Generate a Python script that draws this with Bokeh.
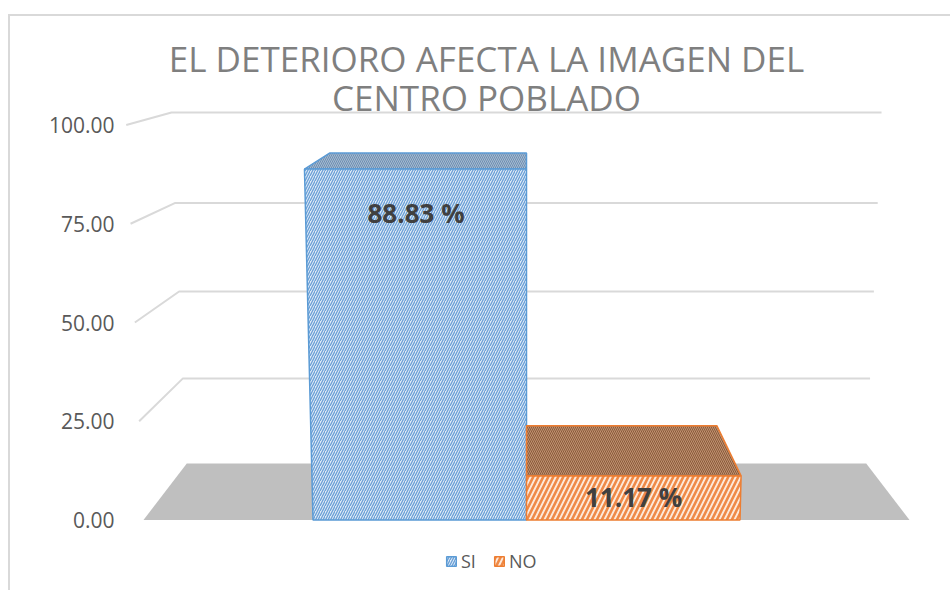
import numpy as np
from bokeh.plotting import figure
from bokeh.models import (Range1d, FixedTicker, NumeralTickFormatter, Label,
                          Legend, LegendItem)
from bokeh.core.properties import value
from bokeh.embed import file_html
from bokeh.resources import INLINE

# ---------------- data ----------------
categories = ["SI", "NO"]
percentages = [88.83, 11.17]
label_texts = ["88.83 %", "11.17 %"]
y_ticks = [0, 25, 50, 75, 100]
title_lines = ["EL DETERIORO AFECTA LA IMAGEN DEL", "CENTRO POBLADO"]

# ---------------- styles ----------------
front_fill = ["#dfebf7", "#fde9da"]
front_hatch = ["#6a9fd6", "#ef8a47"]
front_scale = [5.0, 10.0]
front_weight = [1.3, 2.6]
top_fill = ["#a7bad0", "#c09272"]
top_hatch = ["#6d8fb3", "#8a5a3a"]
edge_color = ["#5b9bd5", "#ed7d31"]

# ---------------- layout (screen px) ----------------
OX, OY = 10, 16       # canvas origin on the page (after css margin + border)
W, H = 942, 576
CX = 526.0            # horizontal vanishing centre
UNIT = 213.5          # px per category width on the front plane
FY0, FK = 519.5, 3.95  # front plane: y = FY0 - FK * v
BY0, BA, BB = 463.0, 3.37, 0.0014  # back wall: y = BY0 - BA v - BB v^2
DEPTH = 0.887         # horizontal shrink from front to back
VK = 0.00045          # vertical convergence
FLOOR_HALF = 1.794    # floor half width in category units
FRAME_LEFT = 124
BOTTOM = OY + H


def proj(X, v, d):
    X = np.asarray(X, dtype=float)
    v = np.asarray(v, dtype=float)
    d = np.asarray(d, dtype=float)
    s = 1 - (1 - DEPTH) * d
    xd = X * s * (1 + VK * v)
    y_back = (FY0 - (BY0 - BA * v - BB * v * v)) / FK
    yd = v + (y_back - v) * d
    return list(xd), list(yd)


p = figure(width=W, height=H, output_backend="svg", toolbar_location=None,
           x_axis_location=None, y_axis_location="left",
           x_range=Range1d((FRAME_LEFT - CX) / UNIT, (OX + W - CX) / UNIT),
           y_range=Range1d((FY0 - BOTTOM) / FK, (FY0 - OY) / FK),
           min_border_left=FRAME_LEFT - OX, min_border_right=0,
           min_border_top=0, min_border_bottom=0,
           styles={"margin-left": "8px", "margin-top": "14px",
                   "border-left": "2px solid #d9d9d9", "border-top": "2px solid #d9d9d9"})
p.outline_line_color = None
p.grid.visible = False
p.background_fill_color = "white"
p.border_fill_color = "white"

yax = p.yaxis[0]
yax.ticker = FixedTicker(ticks=y_ticks)
yax.formatter = NumeralTickFormatter(format="0.00")
yax.axis_line_color = None
yax.major_tick_line_color = None
yax.minor_tick_line_color = None
yax.major_tick_out = 0
yax.major_label_standoff = 10
yax.major_label_text_font = "Open Sans"
yax.major_label_text_font_size = "21px"
yax.major_label_text_color = "#595959"

# gridlines (left wall diagonal + back wall)
gx, gy = [], []
for t in y_ticks:
    if t == 0:
        continue
    xs, ys = proj([-FLOOR_HALF, -FLOOR_HALF, FLOOR_HALF], [t, t, t], [0, 1, 1])
    gx.append(xs)
    gy.append(ys)
p.multi_line(gx, gy, line_color="#d9d9d9", line_width=2)

# floor
fx, fy = proj([-FLOOR_HALF, FLOOR_HALF, FLOOR_HALF, -FLOOR_HALF], [0, 0, 0, 0], [0, 0, 1, 1])
p.patch(fx, fy, fill_color="#bfbfbf", line_color=None)

# bars
n = len(categories)
front_renderers = []
for i, (cat, val) in enumerate(zip(categories, percentages)):
    X0 = i - n / 2
    tx, ty = proj([X0, X0 + 1, X0 + 1, X0], [val] * 4, [0, 0, 1, 1])
    p.patch(tx, ty, fill_color=top_fill[i], hatch_pattern="\\", hatch_color=top_hatch[i],
            hatch_scale=4, hatch_weight=1.0, line_color=edge_color[i], line_width=1.5)
    fxs, fys = proj([X0, X0 + 1, X0 + 1, X0], [0, 0, val, val], [0, 0, 0, 0])
    r = p.patch(fxs, fys, fill_color=front_fill[i], hatch_pattern="/", hatch_color=front_hatch[i],
                hatch_scale=front_scale[i], hatch_weight=front_weight[i],
                line_color=edge_color[i], line_width=1.5)
    front_renderers.append(r)

# data labels
vals = np.array(percentages)
lab_v = np.where(vals > 50, vals - 11.2, vals * 0.51)
lx, ly = [], []
for i, lv in enumerate(lab_v):
    xx, yy = proj([i - n / 2 + 0.5], [lv], [0])
    lx.append(xx[0])
    ly.append(yy[0])
p.text(x=lx, y=ly, text=label_texts, text_align="center", text_baseline="middle",
       text_font=value("Open Sans"), text_font_style="bold", text_font_size="26px",
       text_color="#404040")

# title
for line, ypos in zip(title_lines, [58, 97]):
    p.add_layout(Label(x=486 - FRAME_LEFT, y=BOTTOM - ypos, x_units="screen", y_units="screen",
                       text=line, text_align="center", text_baseline="middle",
                       text_font="Open Sans", text_font_size="35px", text_color="#7f7f7f"))

# legend
legend = Legend(items=[LegendItem(label=c, renderers=[r]) for c, r in zip(categories, front_renderers)],
                orientation="horizontal", location=(445 - FRAME_LEFT, BOTTOM - 573),
                glyph_width=12, glyph_height=12, label_standoff=4, spacing=12,
                padding=0, margin=0, border_line_color=None, background_fill_alpha=0,
                label_text_font="Open Sans", label_text_font_size="18px",
                label_text_color="#595959")
p.add_layout(legend)

open("out.html", "w").write(file_html(p, INLINE))
